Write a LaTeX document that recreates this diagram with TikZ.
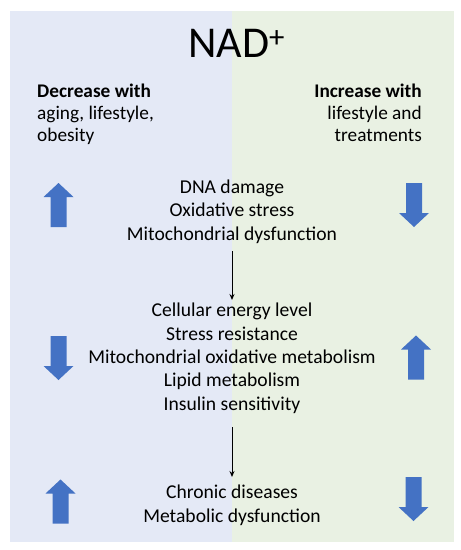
\documentclass[tikz,border=0pt]{standalone}
\usepackage{fontspec}
\setmainfont{Carlito}
\usetikzlibrary{arrows.meta}
\definecolor{bgblue}{HTML}{E4E9F6}
\definecolor{bggreen}{HTML}{E9F1E3}
\definecolor{arrowblue}{HTML}{4472C4}
\tikzset{
  x=1pt, y=1pt,
  txt/.style={inner sep=0pt, font=\fontsize{19.6}{23.3}\selectfont, align=center, anchor=base},
  side/.style={inner sep=0pt, font=\fontsize{19.3}{22}\selectfont, anchor=base},
  flow/.style={-{Stealth[length=6pt,width=5pt]}, line width=1pt},
  uparrow/.pic={\fill[arrowblue] (-8,-22) -- (-8,8) -- (-15,8) -- (0,22) -- (15,8) -- (8,8) -- (8,-22) -- cycle;},
  downarrow/.pic={\fill[arrowblue] (-8,22) -- (-8,-8) -- (-15,-8) -- (0,-22) -- (15,-8) -- (8,-8) -- (8,22) -- cycle;}
}
\begin{document}
\begin{tikzpicture}
\useasboundingbox (0,0) rectangle (461,-550);
\fill[bgblue] (10,-11) rectangle (232,-542);
\fill[bggreen] (232,-11) rectangle (454,-542);
\node[inner sep=0pt, anchor=base west, font=\fontsize{44}{50}\selectfont] (title) at (188,-57) {NAD\textsuperscript{+}};
\node[side, anchor=base west, align=left] (dec) at (37,-141) {\textbf{Decrease with}\\aging, lifestyle,\\obesity};
\node[side, anchor=base east, align=right] (inc) at (422,-141) {\textbf{Increase with}\\lifestyle and\\treatments};
\node[txt] (g1) at (232,-240) {DNA damage\\Oxidative stress\\Mitochondrial dysfunction};
\node[txt] (g2) at (232,-410) {Cellular energy level\\Stress resistance\\Mitochondrial oxidative metabolism\\Lipid metabolism\\Insulin sensitivity};
\node[txt] (g3) at (232,-522) {Chronic diseases\\Metabolic dysfunction};
\coordinate (a1s) at (232,-251);
\coordinate (a1e) at (232,-300);
\coordinate (a2s) at (232,-427);
\coordinate (a2e) at (232,-477);
\draw[flow] (a1s) -- (a1e);
\draw[flow] (a2s) -- (a2e);
\pic at (58.5,-205) {uparrow};
\pic at (414,-205) {downarrow};
\pic at (58.5,-358) {downarrow};
\pic at (416,-357.5) {uparrow};
\pic at (60.5,-501.5) {uparrow};
\pic at (413.5,-499) {downarrow};
\end{tikzpicture}
\end{document}
